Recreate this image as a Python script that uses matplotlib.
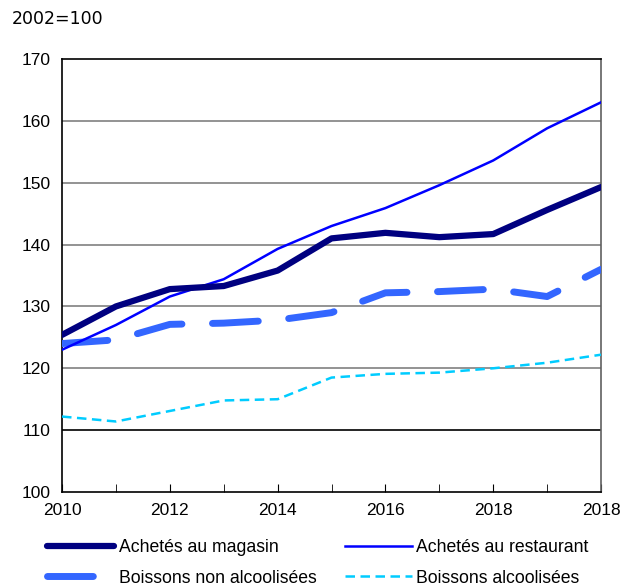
import matplotlib.pyplot as plt
from matplotlib.lines import Line2D

# données (indice, 2002=100)
annees = [2010, 2011, 2012, 2013, 2014, 2015, 2016, 2017, 2018, 2019, 2020]
magasin = [125.4, 130.0, 132.8, 133.3, 135.8, 141.0, 141.9, 141.2, 141.7, 145.6, 149.3]
restaurant = [123.0, 127.0, 131.6, 134.4, 139.3, 143.0, 145.9, 149.6, 153.6, 158.8, 163.0]
non_alcool = [124.0, 124.6, 127.1, 127.3, 127.8, 129.0, 132.2, 132.4, 132.8, 131.6, 136.0]
alcool = [112.2, 111.4, 113.1, 114.8, 115.0, 118.5, 119.1, 119.3, 120.0, 120.9, 122.2]

ticks_x = [2010, 2012, 2014, 2016, 2018, 2020]
etiquettes_x = ["2010", "2012", "2014", "2016", "2018", "2018"]
ticks_y = [100, 110, 120, 130, 140, 150, 160, 170]

plt.rcParams["font.family"] = ["Liberation Sans", "DejaVu Sans"]

fig = plt.figure(figsize=(6.31, 5.86), dpi=100)
ax = fig.add_axes([0.0983, 0.1604, 0.8542, 0.7389])

# grille
for y in ticks_y[1:-1]:
    ax.axhline(y, color="black" if y == 110 else "#808080", lw=1.2, zorder=1)

style_alc = dict(color="#00CCFF", lw=1.8, ls=(0, (3.8, 2.2)))
style_non = dict(color="#3366FF", lw=5, ls=(0, (6.6, 4.4)), dash_capstyle="round")
style_rest = dict(color="#0000FF", lw=1.8)
style_mag = dict(color="#000080", lw=4.5, solid_capstyle="round")

ax.plot(annees, alcool, zorder=3, **style_alc)
ax.plot(annees, non_alcool, zorder=3, **style_non)
ax.plot(annees, restaurant, zorder=4, **style_rest)
ax.plot(annees, magasin, zorder=5, **style_mag)

ax.set_xlim(2010, 2020)
ax.set_ylim(100, 170)
ax.set_xticks(ticks_x)
ax.set_xticklabels(etiquettes_x, fontsize=12.5)
ax.set_xticks(annees, minor=True)
ax.set_yticks(ticks_y)
ax.set_yticklabels([str(v) for v in ticks_y], fontsize=12.5)
ax.tick_params(axis="x", which="both", direction="in", length=6, color="black", pad=8)
ax.tick_params(axis="y", length=0, pad=8)

for s in ["left", "bottom", "top"]:
    ax.spines[s].set_color("black")
    ax.spines[s].set_linewidth(1.2)
ax.spines["right"].set_color("#606060")
ax.spines["right"].set_linewidth(1.2)

fig.text(0.018, 0.968, "2002=100", fontsize=12.5, family="DejaVu Sans", va="center", ha="left")

# légende (ordre colonne par colonne)
poignees = [
    Line2D([], [], **style_mag),
    Line2D([], [], **style_non),
    Line2D([], [], **style_rest),
    Line2D([], [], **style_alc),
]
noms = ["Achetés au magasin", "Boissons non alcoolisées", "Achetés au restaurant", "Boissons alcoolisées"]
fig.legend(poignees, noms, ncol=2, loc="lower left", bbox_to_anchor=(0.05, -0.028),
           frameon=False, fontsize=12.7, handlelength=3.8, handletextpad=0.25,
           columnspacing=1.6, labelspacing=0.75)

plt.savefig("out.png", dpi=100)
